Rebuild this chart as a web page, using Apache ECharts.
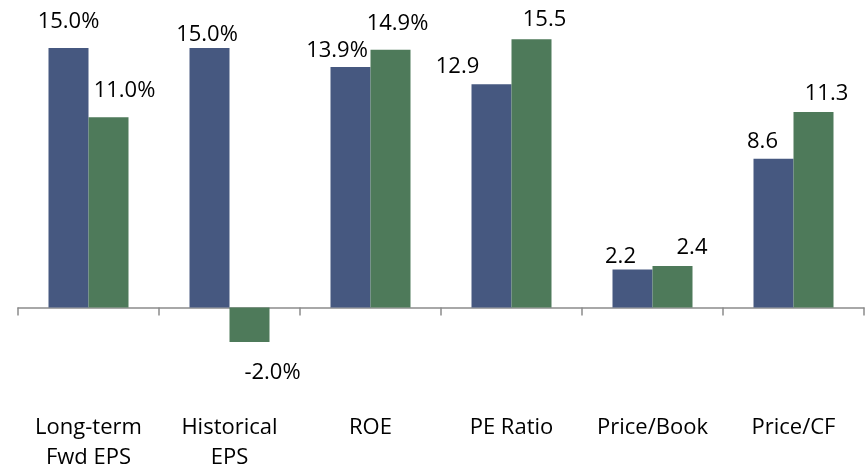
<!DOCTYPE html>
<html>
<head>
<meta charset="utf-8">
<script src="https://cdn.jsdelivr.net/npm/echarts@6/dist/echarts.min.js"></script>
<style>
html,body{margin:0;padding:0;background:#fff;}
#c{width:867px;height:471px;}
</style>
</head>
<body>
<div id="c"></div>
<script>
const categories = ['Long-term\nFwd EPS', 'Historical\nEPS', 'ROE', 'PE Ratio', 'Price/Book', 'Price/CF'];
const seriesA = [15.0, 15.0, 13.9, 12.9, 2.2, 8.6];
const seriesB = [11.0, -2.0, 14.9, 15.5, 2.4, 11.3];
const suffixes = ['%', '%', '%', '', '', ''];

// label offsets from bar centre (style only)
const offsA = [[0,-156],[-2.5,-143],[-13.5,-137],[-34,-129.5],[-12,-31.5],[-11,-91.5]];
const offsB = [[16,-122],[23,48],[7,-155],[13,-154],[19.5,-39],[13,-116]];

const FONT = 'Open Sans';

function build(vals, offs) {
  return vals.map((v, i) => ({
    value: v,
    label: { offset: offs[i] }
  }));
}

function mkSeries(vals, offs, color) {
  return {
    type: 'bar',
    xAxisIndex: 0,
    data: build(vals, offs),
    barWidth: 40,
    barGap: '0%',
    itemStyle: { color: color },
    label: {
      show: true,
      position: 'inside',
      color: '#000',
      fontFamily: FONT,
      fontSize: 22,
      formatter: p => p.value.toFixed(1) + suffixes[p.dataIndex]
    },
    emphasis: { disabled: true },
    animation: false
  };
}

const chart = echarts.init(document.getElementById('c'), null, { renderer: 'canvas' });
chart.setOption({
  animation: false,
  grid: { left: 18, right: 3, top: 30.7, height: 346, containLabel: false, outerBoundsMode: 'none' },
  xAxis: [{
    type: 'category',
    data: categories,
    axisLine: { show: true, onZero: true, lineStyle: { color: '#8c8c8c', width: 1.5 } },
    axisTick: { show: true, length: 8, lineStyle: { color: '#8c8c8c', width: 1.5 } },
    axisLabel: { show: false }
  }, {
    type: 'category',
    data: categories,
    position: 'bottom',
    axisLine: { show: false, onZero: false },
    axisTick: { show: false },
    axisLabel: { show: true, color: '#000', fontFamily: FONT, fontSize: 22, lineHeight: 30, margin: 36, interval: 0 }
  }],
  yAxis: {
    type: 'value',
    min: -4, max: 16,
    show: false,
    splitLine: { show: false }
  },
  series: [
    mkSeries(seriesA, offsA, '#465880'),
    mkSeries(seriesB, offsB, '#4e7a5a')
  ]
});
</script>
</body>
</html>
